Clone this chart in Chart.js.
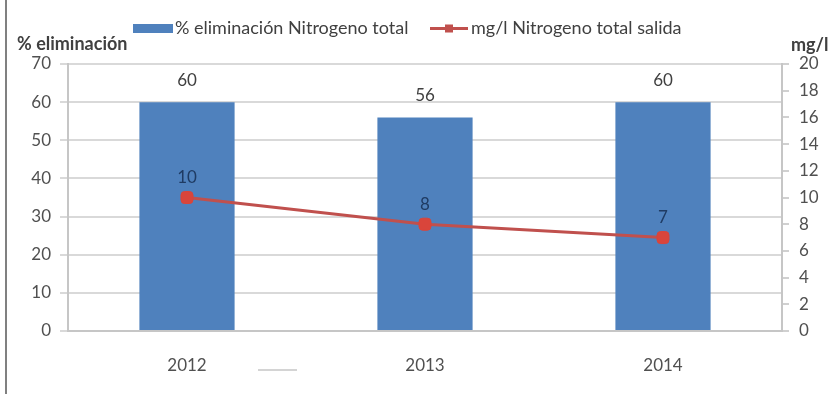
<!DOCTYPE html>
<html>
<head>
<meta charset="utf-8">
<script src="https://cdn.jsdelivr.net/npm/chart.js@4/dist/chart.umd.min.js"></script>
<style>
  html, body { margin: 0; padding: 0; background: #fff; }
  #wrap { position: relative; width: 830px; height: 394px; }
</style>
</head>
<body>
<div id="wrap"><canvas id="c" width="830" height="394"></canvas></div>
<script>
// Years on the category axis
const years = ['2012', '2013', '2014'];
// Total nitrogen removal (%), left axis
const removalPct = [60, 56, 60];
// Total nitrogen at the outlet (mg/l), right axis
const outletMgL = [10, 8, 7];
// Series and axis captions
const seriesNames = ['% eliminación Nitrogeno total', 'mg/l Nitrogeno total salida'];
const axisTitles = ['% eliminación', 'mg/l'];

const BLUE = '#4F81BD';
const RED = '#C0504D';
const FONT = 'Lato, "Open Sans", sans-serif';
const TICK_COLOR = '#505050';

// Value labels, legend, axis captions and frame drawn on the canvas
const decorations = {
  id: 'decorations',
  afterDatasetsDraw(chart) {
    const ctx = chart.ctx;
    ctx.save();
    ctx.textAlign = 'center';
    ctx.textBaseline = 'middle';
    ctx.font = '17px ' + FONT;
    const barMeta = chart.getDatasetMeta(0);
    barMeta.data.forEach((el, i) => {
      ctx.fillStyle = '#404040';
      ctx.fillText(String(removalPct[i]), el.x, el.y - 22);
    });
    const lineMeta = chart.getDatasetMeta(1);
    lineMeta.data.forEach((el, i) => {
      ctx.fillStyle = '#1F3B63';
      ctx.fillText(String(outletMgL[i]), el.x, el.y - 20);
    });
    ctx.restore();
  },
  afterDraw(chart) {
    const ctx = chart.ctx;
    ctx.save();
    // legend
    ctx.textBaseline = 'middle';
    ctx.textAlign = 'left';
    ctx.font = '18px ' + FONT;
    ctx.fillStyle = BLUE;
    ctx.fillRect(133, 24, 40, 9);
    ctx.fillStyle = '#404040';
    ctx.fillText(seriesNames[0], 175, 28);
    ctx.strokeStyle = RED;
    ctx.lineWidth = 3;
    ctx.beginPath();
    ctx.moveTo(430, 28.5);
    ctx.lineTo(468, 28.5);
    ctx.stroke();
    ctx.fillStyle = RED;
    ctx.fillRect(445, 24.5, 8, 8);
    ctx.fillStyle = '#404040';
    ctx.fillText(seriesNames[1], 471, 28);
    // axis captions
    ctx.font = 'bold 18px ' + FONT;
    ctx.fillStyle = '#404040';
    ctx.fillText(axisTitles[0], 17, 44);
    ctx.fillText(axisTitles[1], 791, 45);
    // left frame edge
    ctx.strokeStyle = '#808080';
    ctx.lineWidth = 2;
    ctx.beginPath();
    ctx.moveTo(6, 0);
    ctx.lineTo(6, 394);
    ctx.stroke();
    // short rule under the axis
    ctx.strokeStyle = '#d4d4d4';
    ctx.lineWidth = 2;
    ctx.beginPath();
    ctx.moveTo(258, 370);
    ctx.lineTo(297, 370);
    ctx.stroke();
    ctx.restore();
  }
};

new Chart(document.getElementById('c'), {
  type: 'bar',
  data: {
    labels: years,
    datasets: [
      {
        label: seriesNames[0],
        data: removalPct,
        backgroundColor: BLUE,
        yAxisID: 'y',
        barPercentage: 0.4,
        categoryPercentage: 1,
        order: 2
      },
      {
        type: 'line',
        label: seriesNames[1],
        data: outletMgL,
        borderColor: RED,
        borderWidth: 3,
        pointStyle: 'rectRounded',
        pointRadius: 7,
        pointBackgroundColor: '#D9453B',
        pointBorderColor: '#D9453B',
        pointBorderWidth: 1,
        yAxisID: 'y1',
        order: 1
      }
    ]
  },
  options: {
    responsive: false,
    animation: false,
    layout: { padding: { top: 64, left: 0, right: 0, bottom: 0 } },
    plugins: { legend: { display: false }, tooltip: { enabled: false } },
    scales: {
      x: {
        grid: { display: false },
        border: { display: true, color: '#c6c6c6', width: 2 },
        ticks: { font: { family: FONT, size: 17 }, color: TICK_COLOR, padding: 16 },
        afterFit(s) { s.height = 63; }
      },
      y: {
        position: 'left',
        min: 0,
        max: 70,
        ticks: { stepSize: 10, font: { family: FONT, size: 17 }, color: TICK_COLOR, padding: 9 },
        grid: { color: '#d9d9d9', lineWidth: 2, tickLength: 8 },
        border: { color: '#c6c6c6', width: 2 },
        afterFit(s) { s.width = 68; }
      },
      y1: {
        position: 'right',
        min: 0,
        max: 20,
        ticks: { stepSize: 2, font: { family: FONT, size: 17 }, color: TICK_COLOR, padding: 10 },
        grid: { drawOnChartArea: false, color: '#d0d0d0', lineWidth: 2, tickLength: 7 },
        border: { color: '#c6c6c6', width: 2 },
        afterFit(s) { s.width = 48; }
      }
    }
  },
  plugins: [decorations]
});
</script>
</body>
</html>
